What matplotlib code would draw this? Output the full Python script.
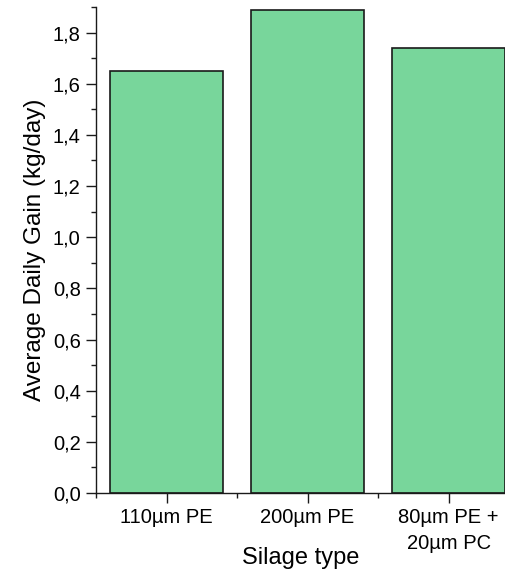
import matplotlib
matplotlib.use("Agg")
import matplotlib.pyplot as plt
from matplotlib.ticker import MultipleLocator, FuncFormatter, FixedLocator

plt.rcParams['font.family'] = ['Liberation Sans', 'DejaVu Sans']

categories = ["110µm PE", "200µm PE", "80µm PE +\n20µm PC"]
adg_values = [1.65, 1.89, 1.74]

W, H, DPI = 505, 574, 100
fig = plt.figure(figsize=(W / DPI, H / DPI), dpi=DPI)
ax = fig.add_axes([96 / W, (H - 493) / H, (W - 96) / W, (493 - 7) / H])

x = list(range(len(categories)))
ax.bar(x, adg_values, width=0.8, color="#78D69B", edgecolor="#1a1a1a", linewidth=1.2, zorder=2)

ax.set_xlim(-0.5, 2.4)
ax.set_ylim(0, 1.9)

ax.yaxis.set_major_locator(MultipleLocator(0.2))
ax.yaxis.set_minor_locator(MultipleLocator(0.1))
ax.yaxis.set_major_formatter(FuncFormatter(lambda v, p: f"{v:.1f}".replace(".", ",")))

ax.set_xticks(x)
ax.set_xticklabels(categories, linespacing=1.45)
ax.xaxis.set_minor_locator(FixedLocator([-0.5, 0.5, 1.5]))

for s in ("top", "right"):
    ax.spines[s].set_visible(False)
for s in ("left", "bottom"):
    ax.spines[s].set_linewidth(1.0)
    ax.spines[s].set_color("#1a1a1a")

ax.tick_params(axis="both", which="major", length=7, width=1.0, labelsize=14.5, direction="out", color="#1a1a1a", pad=4)
ax.tick_params(axis="both", which="minor", length=3.5, width=1.0, direction="out", color="#1a1a1a")

ax.set_xlabel("Silage type", fontsize=17, labelpad=-4)
ax.set_ylabel("Average Daily Gain (kg/day)", fontsize=17.5, labelpad=5)

fig.savefig("out.png", dpi=DPI)
